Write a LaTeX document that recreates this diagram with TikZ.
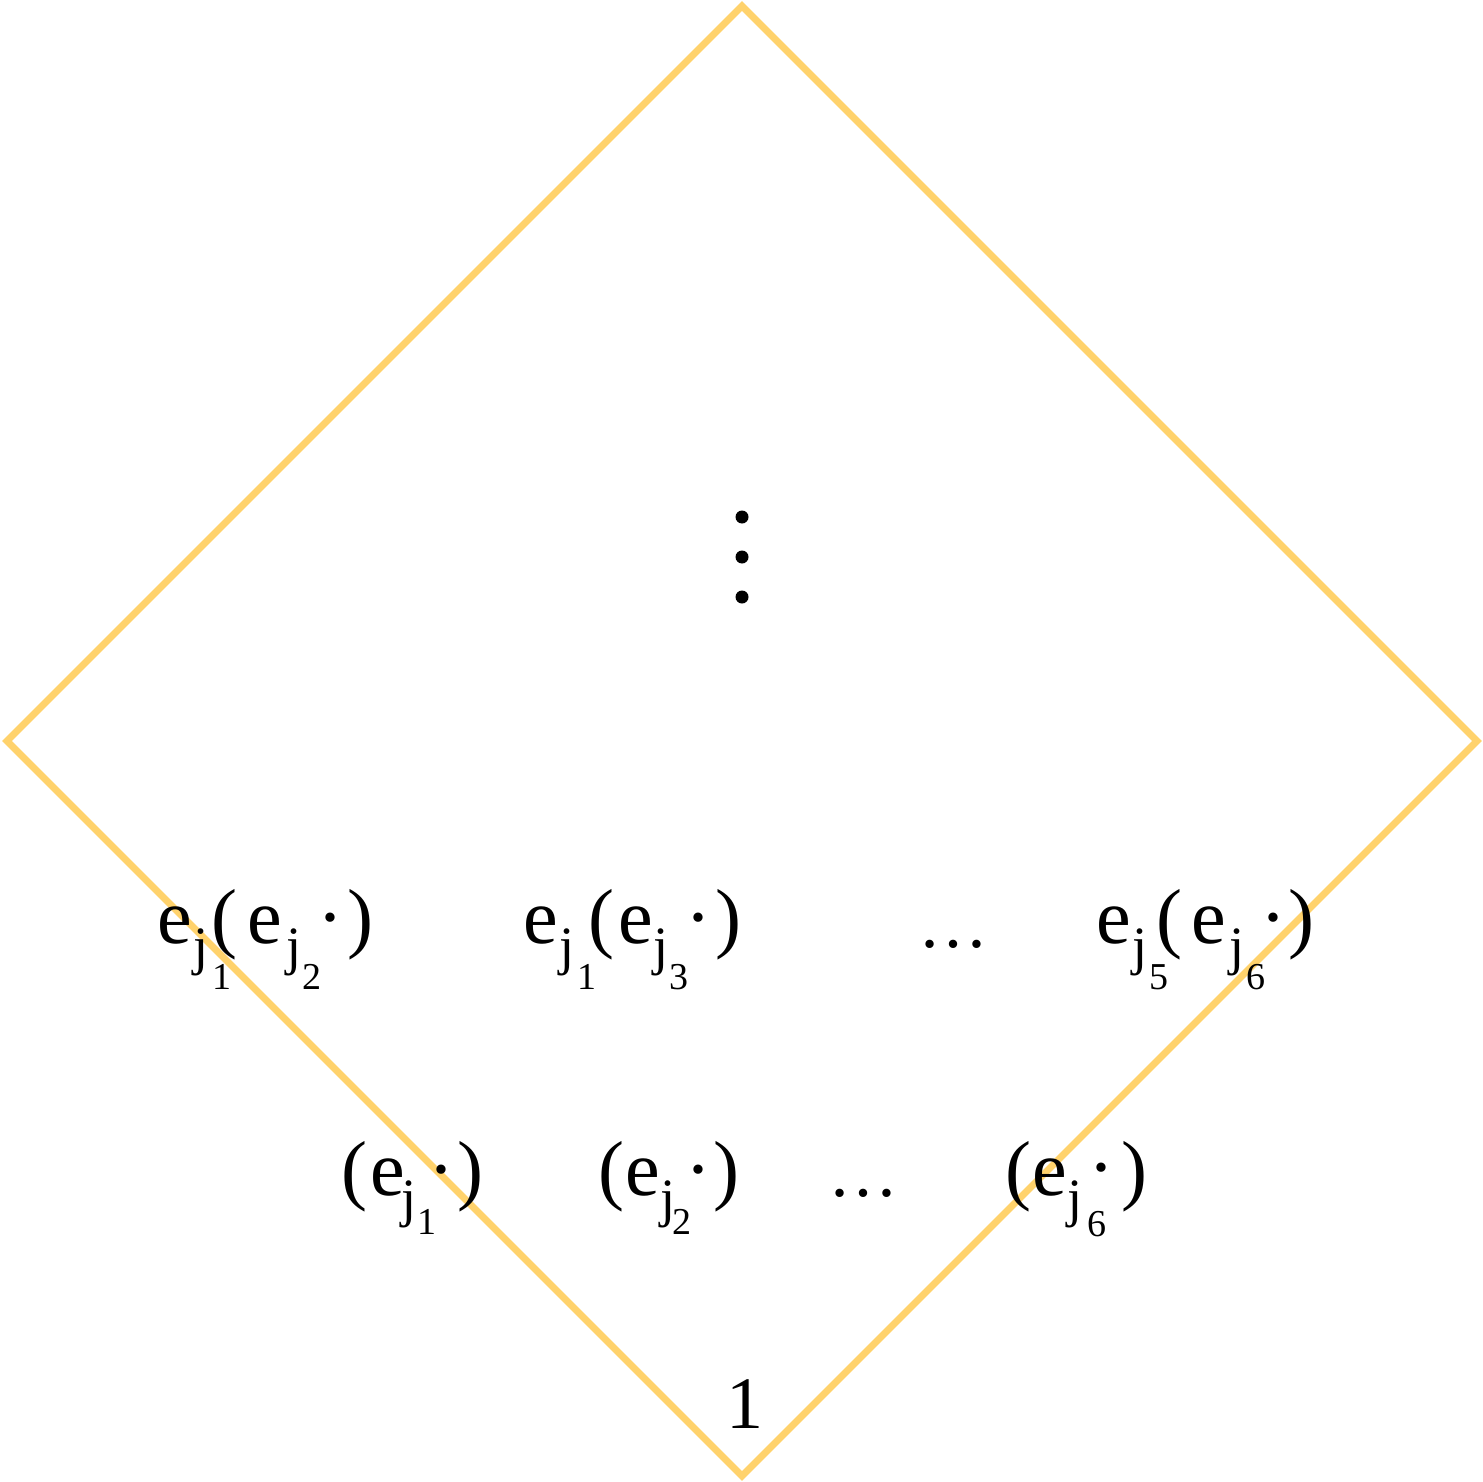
\documentclass[tikz,border=0pt]{standalone}
\usepackage{fontspec}
\setmainfont{Liberation Serif}
\newcommand\putg[5]{\node[gly,font=\fontsize{#4}{#4}\selectfont] (#1) at (#2,#3) {#5};}
\begin{document}
\begin{tikzpicture}[x=1pt,y=-1pt,
  gly/.style={inner sep=0pt,outer sep=0pt,anchor=base},
  frame/.style={draw={rgb,255:red,255;green,210;blue,108},line width=7pt,line join=miter},
  vdot/.style={fill=black,draw=none}]
\useasboundingbox (0,0) rectangle (1483,1482);
% diamond
\coordinate (T) at (742,6);
\coordinate (R) at (1477,741);
\coordinate (B) at (742,1476);
\coordinate (L) at (7,741);
\draw[frame] (T) -- (R) -- (B) -- (L) -- cycle;
% vertical dots
\fill[vdot] (742,517) circle (6.5);
\fill[vdot] (742,557) circle (6.5);
\fill[vdot] (742,597) circle (6.5);
% row 1, label A
\putg{Ae}{175}{943}{78}{e}
\putg{Aj}{201}{964}{54}{j}
\putg{A1}{222}{989}{38}{1}
\putg{Ap}{224}{943}{78}{(}
\putg{Ae2}{265}{943}{78}{e}
\putg{Aj2}{294}{964}{54}{j}
\putg{A2}{312}{989}{38}{2}
\putg{Ad}{330}{943}{78}{·}
\putg{Aq}{360}{943}{78}{)}
% label B
\putg{Be}{541}{943}{78}{e}
\putg{Bj}{567}{964}{54}{j}
\putg{B1}{587}{989}{38}{1}
\putg{Bp}{601}{943}{78}{(}
\putg{Be2}{636}{943}{78}{e}
\putg{Bj2}{661}{964}{54}{j}
\putg{B3}{679}{989}{38}{3}
\putg{Bd}{698}{943}{78}{·}
\putg{Bq}{728}{943}{78}{)}
% ellipsis row 1
\putg{E1}{953}{947}{70}{…}
% label C
\putg{Ce}{1114}{943}{78}{e}
\putg{Cj}{1140}{964}{54}{j}
\putg{C5}{1159}{989}{38}{5}
\putg{Cp}{1169}{943}{78}{(}
\putg{Ce2}{1209}{943}{78}{e}
\putg{Cj2}{1237}{964}{54}{j}
\putg{C6}{1256}{989}{38}{6}
\putg{Cd}{1273}{943}{78}{·}
\putg{Cq}{1301}{943}{78}{)}
% row 2, label D
\putg{Dp}{354}{1195}{78}{(}
\putg{De}{388}{1195}{78}{e}
\putg{Dj}{409}{1216}{54}{j}
\putg{D1}{427}{1234}{38}{1}
\putg{Dd}{441}{1195}{78}{·}
\putg{Dq}{470}{1195}{78}{)}
% label E
\putg{Fp}{611}{1195}{78}{(}
\putg{Fe}{643}{1195}{78}{e}
\putg{Fj}{668}{1216}{54}{j}
\putg{F2}{682}{1234}{38}{2}
\putg{Fd}{698}{1195}{78}{·}
\putg{Fq}{726}{1195}{78}{)}
% ellipsis row 2
\putg{E2}{863}{1196}{70}{…}
% label F
\putg{Gp}{1018}{1195}{78}{(}
\putg{Ge}{1050}{1195}{78}{e}
\putg{Gj}{1075}{1216}{54}{j}
\putg{G6}{1097}{1236}{38}{6}
\putg{Gd}{1101}{1193}{78}{·}
\putg{Gq}{1134}{1195}{78}{)}
% bottom 1
\putg{one}{745}{1428}{74}{1}
\end{tikzpicture}
\end{document}
